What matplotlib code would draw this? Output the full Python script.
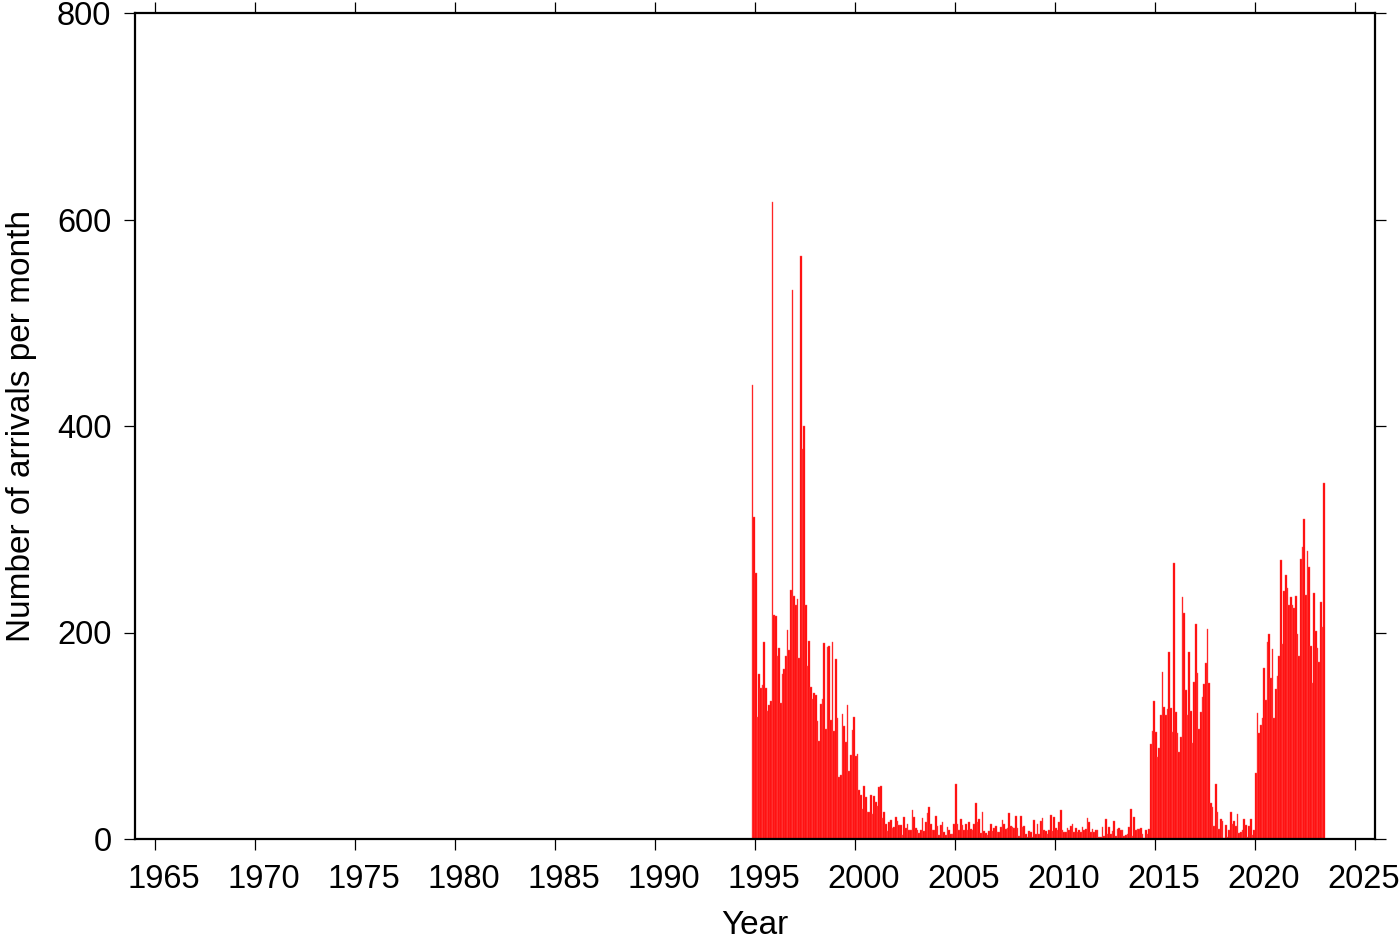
import matplotlib
matplotlib.use('Agg')
import matplotlib.pyplot as plt
import matplotlib.transforms as mtransforms
import numpy as np

# Monthly arrival counts, first month = November 1994
start_year = 1994
start_month = 11

counts_1994_1997 = [440, 312, 258, 118, 160, 146, 149, 191, 146, 124, 130, 134, 617, 217, 216, 177,
                    185, 132, 160, 165, 177, 202, 183, 241, 532, 235, 227, 232, 175, 565, 378, 400, 227]
counts_1997_2000 = [168, 192, 147, 136, 141, 139, 114, 95, 131, 136, 190, 107, 186, 187, 115, 191,
                    105, 174, 117, 60, 62, 121, 109, 94, 130, 66, 81, 106, 118, 80, 82, 47, 43]
counts_2000_2005 = [29, 51, 41, 26, 26, 43, 24, 42, 36, 32, 50, 51, 20, 26, 15, 8, 16, 18, 11, 12,
                    21, 17, 14, 14, 4, 21, 11, 15, 9, 9, 28, 21, 11, 9, 6, 9, 20, 8, 16, 25,
                    31, 15, 9, 9, 22, 13, 4, 14, 16, 7, 4, 12, 9, 5, 5, 15, 53]
counts_2005_2009 = [15, 9, 19, 14, 9, 15, 9, 16, 10, 9, 15, 35, 16, 19, 6, 26, 8, 6, 4, 8,
                    15, 8, 11, 13, 7, 7, 12, 18, 15, 10, 11, 25, 13, 12, 11, 22, 11, 3, 22, 12,
                    13, 5, 2, 8, 7, 2, 18, 5, 15, 5, 17, 20, 9, 8, 5, 9, 23]
counts_2009_2014 = [8, 21, 11, 9, 16, 28, 9, 7, 7, 11, 9, 13, 15, 7, 11, 7, 9, 7, 12, 9,
                    10, 20, 16, 7, 10, 7, 9, 9, 2, 2, 12, 3, 19, 5, 12, 5, 8, 17, 3, 10,
                    11, 9, 9, 3, 4, 5, 12, 29, 3, 21, 9, 10, 10, 11, 5, 1, 9, 5, 10]
counts_2014_2017 = [92, 105, 134, 104, 79, 88, 120, 162, 128, 120, 126, 181, 127, 104, 267, 123,
                    103, 84, 99, 234, 219, 144, 120, 181, 124, 93, 152, 208, 161, 107, 123]
counts_2017_2020 = [138, 150, 170, 203, 151, 35, 31, 13, 53, 26, 10, 19, 17, 1, 14, 2, 9, 26,
                    15, 17, 13, 24, 6, 7, 9, 19, 14, 2, 13, 19, 4, 9, 64, 122, 103, 110]
counts_2020_2023 = [117, 166, 135, 191, 199, 156, 184, 117, 145, 158, 177, 270, 189, 240, 256,
                    243, 227, 234, 227, 224, 235, 199, 177, 271, 283, 310, 236, 279, 263, 187,
                    151, 238, 201, 185, 171, 230, 205, 345]

counts = np.concatenate([counts_1994_1997, counts_1997_2000, counts_2000_2005, counts_2005_2009,
                         counts_2009_2014, counts_2014_2017, counts_2017_2020, counts_2020_2023])
t = start_year + (start_month - 1) / 12 + np.arange(len(counts)) / 12

x_ticks = list(range(1965, 2026, 5))
y_ticks = list(range(0, 801, 200))

plt.rcParams['font.family'] = ['Liberation Sans', 'DejaVu Sans']
fig = plt.figure(figsize=(14, 9.42), dpi=100)
ax = fig.add_axes([135 / 1400, 1 - 839 / 942, 1240 / 1400, 826 / 942])
ax.bar(t, counts, width=1 / 12, align='edge', color='#ff0000', edgecolor='#ff5a5a', linewidth=0.3)
ax.set_xlim(1964, 2026)
ax.set_ylim(0, 800)
ax.set_xticks(x_ticks)
ax.set_yticks(y_ticks)
ax.tick_params(direction='out', length=8, width=0.9, top=True, right=True,
               labelsize=23.5, colors='black')
ax.tick_params(axis='x', pad=10)
ax.tick_params(axis='y', pad=9)
shift = mtransforms.ScaledTranslation(9 / 100, 0, fig.dpi_scale_trans)
for lbl in ax.get_xticklabels():
    lbl.set_transform(lbl.get_transform() + shift)
for s in ax.spines.values():
    s.set_linewidth(1.6)
ax.set_xlabel('Year', fontsize=24, labelpad=11)
ax.set_ylabel('Number of arrivals per month', fontsize=24, labelpad=14)
fig.savefig('out.png', dpi=100)
